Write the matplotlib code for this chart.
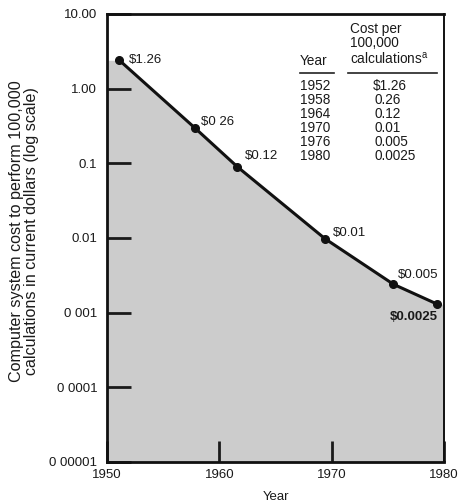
import matplotlib
matplotlib.use("Agg")
import matplotlib.pyplot as plt
from matplotlib.ticker import NullLocator

plt.rcParams['font.family'] = ['Liberation Sans', 'DejaVu Sans']

# Plotted points (positions as drawn in the chart)
years = [1951.1, 1957.8, 1961.6, 1969.4, 1975.5, 1979.4]
cost = [2.4, 0.3, 0.09, 0.0098, 0.0024, 0.0013]
point_labels = ["$1.26", "$0 26", "$0.12", "$0.01", "$0.005", "$0.0025"]

# Inset table
table_years = ["1952", "1958", "1964", "1970", "1976", "1980"]
table_costs = ["$1.26", "0.26", "0.12", "0.01", "0.005", "0.0025"]

ytick_vals = [10, 1, 0.1, 0.01, 0.001, 0.0001, 0.00001]
ytick_labels = ["10.00", "1.00", "0.1", "0.01", "0 001", "0 0001", "0 00001"]
xtick_vals = [1950, 1960, 1970, 1980]

W, H = 461, 503
fig = plt.figure(figsize=(W / 100, H / 100), dpi=100)
ax = fig.add_axes([107 / W, 1 - 462 / H, 337 / W, 448 / H])

ax.set_yscale('log')
ax.set_xlim(1950, 1980)
ax.set_ylim(1e-5, 10)

fill_x = [1950] + years + [1980]
fill_y = [cost[0]] + cost + [cost[-1]]
ax.fill_between(fill_x, fill_y, 1e-5, color='#cccccc', lw=0, zorder=1)
ax.plot(years, cost, color='#111111', lw=2.2, marker='o', ms=5.5, zorder=3)

txtc = '#1a1a1a'
offsets = [(10, 0, 'left', 'normal'), (6, 6, 'left', 'normal'), (8, 11, 'left', 'normal'),
           (8, 6, 'left', 'normal'), (4, 9, 'left', 'normal'), (1, -13, 'right', 'bold')]
for x, y, lab, (dx, dy, ha, fw) in zip(years, cost, point_labels, offsets):
    ax.annotate(lab, xy=(x, y), xytext=(dx, dy), textcoords='offset pixels',
                ha=ha, va='center', fontsize=9.5, fontweight=fw, color=txtc, zorder=4)

ax.set_yticks(ytick_vals)
ax.set_yticklabels(ytick_labels)
ax.yaxis.set_minor_locator(NullLocator())
ax.set_xticks(xtick_vals)
ax.set_xticklabels([str(v) for v in xtick_vals])
ax.tick_params(axis='y', direction='in', length=17, width=2, pad=7, labelsize=9.5, colors=txtc)
ax.tick_params(axis='x', direction='in', length=15, width=2, pad=5, labelsize=9.5, colors=txtc)

for s in ['left', 'bottom', 'top']:
    ax.spines[s].set_linewidth(2)
ax.spines['right'].set_linewidth(1.4)
for s in ax.spines.values():
    s.set_color('#111111')

ax.set_xlabel("Year", fontsize=9.5, color=txtc, labelpad=7)

fig.text(24 / W, 1 - 231 / H,
         "Computer system cost to perform 100,000\ncalculations in current dollars (log scale)",
         rotation=90, ha='center', va='center', fontsize=11.6, color=txtc, linespacing=0.92,
         multialignment='center')

# Inset table (figure pixel coordinates converted to fractions)
def fx(px):
    return px / W

def fy(py):
    return 1 - py / H

fs = 9.8
fig.text(fx(350), fy(33), "Cost per", fontsize=fs, color=txtc, va='baseline')
fig.text(fx(350), fy(47), "100,000", fontsize=fs, color=txtc, va='baseline')
fig.text(fx(350), fy(64), "calculations$^{\\mathregular{a}}$", fontsize=fs, color=txtc, va='baseline')
fig.text(fx(300), fy(65), "Year", fontsize=fs, color=txtc, va='baseline')
fig.add_artist(plt.Line2D([fx(300), fx(334)], [fy(73), fy(73)], color='#222222', lw=1.2))
fig.add_artist(plt.Line2D([fx(348), fx(437)], [fy(73), fy(73)], color='#222222', lw=1.2))

for i, (yr, c) in enumerate(zip(table_years, table_costs)):
    by = 90 + i * 14
    fig.text(fx(300), fy(by), yr, fontsize=fs, color=txtc, va='baseline')
    if c.startswith('$'):
        fig.text(fx(407), fy(by), c, fontsize=fs, color=txtc, va='baseline', ha='right')
    else:
        fig.text(fx(374), fy(by), c, fontsize=fs, color=txtc, va='baseline', ha='left')

fig.savefig("out.png", dpi=100)
